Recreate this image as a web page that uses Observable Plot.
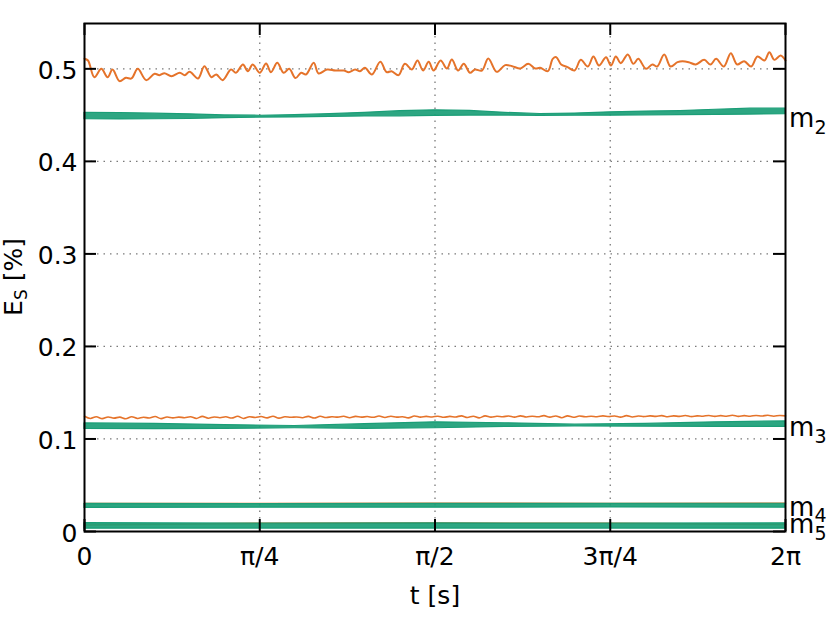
<!DOCTYPE html>
<html>
<head>
<meta charset="utf-8">
<script src="https://cdn.jsdelivr.net/npm/d3@7"></script>
<script src="https://cdn.jsdelivr.net/npm/@observablehq/plot@0.6"></script>
<style>
  html, body { margin: 0; padding: 0; background: #fff; }
</style>
</head>
<body>
<div id="chart"></div>
<script>
// ---- axis ticks ----
const xTicks = [0, 0.25, 0.5, 0.75, 1];
const xTickLabels = ["0", "π/4", "π/2", "3π/4", "2π"];
const yTicks = [0, 0.1, 0.2, 0.3, 0.4, 0.5];

// ---- mode m2, orange series (t as fraction of the 2π period) ----
const tM2o = [0,0.005,0.014,0.024,0.033,0.040,0.050,0.059,0.067,0.076,0.088,0.100,0.107,0.114,0.124,0.136,0.143,0.150,0.162,0.171,0.181,0.188,0.197,0.209,0.216,0.226,0.233,0.240,0.250,0.259,0.266,0.275,0.284,0.292,0.301,0.309,0.316,0.327,0.334,0.346,0.358,0.370,0.377,0.386,0.393,0.400,0.410,0.422,0.431,0.438,0.448,0.457,0.467,0.475,0.483,0.491,0.498,0.508,0.517,0.524,0.533,0.541,0.550,0.557,0.567,0.576,0.588,0.600,0.610,0.622,0.633,0.643,0.650,0.661,0.668,0.673,0.680,0.689,0.699,0.708,0.718,0.726,0.734,0.744,0.751,0.758,0.765,0.775,0.783,0.790,0.801,0.810,0.817,0.827,0.836,0.846,0.853,0.862,0.872,0.884,0.893,0.901,0.912,0.922,0.931,0.941,0.951,0.960,0.970,0.977,0.984,0.993,1.000];
const vM2o = [0.511,0.509,0.491,0.500,0.491,0.4993,0.4867,0.4903,0.4896,0.500,0.4878,0.4946,0.4932,0.4953,0.4921,0.4957,0.4932,0.4968,0.4896,0.5029,0.491,0.4939,0.4878,0.4993,0.4957,0.5047,0.4975,0.5047,0.4957,0.5058,0.4964,0.5065,0.4957,0.500,0.490,0.4957,0.4939,0.5065,0.4950,0.4993,0.4982,0.4982,0.4964,0.4993,0.4975,0.5011,0.4939,0.5076,0.4964,0.4975,0.4932,0.5054,0.4993,0.5090,0.4982,0.5076,0.4982,0.5090,0.5004,0.5101,0.4982,0.5054,0.4957,0.4993,0.4982,0.5112,0.4968,0.5040,0.5029,0.5004,0.5054,0.5004,0.5011,0.4975,0.5108,0.5126,0.5047,0.5018,0.4982,0.5097,0.5025,0.5133,0.5036,0.5126,0.5036,0.5133,0.5061,0.5155,0.5054,0.5108,0.500,0.5047,0.5025,0.5155,0.5025,0.5072,0.5083,0.5072,0.5047,0.5097,0.5047,0.5108,0.5025,0.5169,0.5047,0.5083,0.5025,0.5133,0.5090,0.5180,0.5097,0.5144,0.5090];

// ---- mode m2, green band (lower / upper envelope) ----
const tM2g = [0,0.05,0.1,0.15,0.2,0.25,0.3,0.35,0.4,0.45,0.5,0.55,0.6,0.65,0.7,0.75,0.8,0.85,0.9,0.95,1];
const loM2g = [0.4455,0.4453,0.4455,0.4458,0.4467,0.4473,0.4475,0.4480,0.4485,0.4487,0.4492,0.4495,0.4495,0.4492,0.4493,0.4494,0.4498,0.4500,0.4502,0.4506,0.4510];
const hiM2g = [0.4525,0.4523,0.4515,0.4508,0.4497,0.4493,0.4499,0.4510,0.4525,0.4543,0.4552,0.4545,0.4525,0.4512,0.4517,0.4530,0.4538,0.4544,0.4558,0.4570,0.4570];

// ---- mode m3, orange series (evenly sampled) ----
const vM3o = [
0.1245,0.1222,0.1240,0.1220,0.1238,0.1225,0.1236,0.1218,0.1240,0.1222,
0.1235,0.1226,0.1242,0.1220,0.1238,0.1228,0.1236,0.1230,0.1240,0.1222,
0.1244,0.1224,0.1238,0.1230,0.1240,0.1226,0.1245,0.1222,0.1240,0.1232,
0.1242,0.1228,0.1246,0.1225,0.1240,0.1234,0.1238,0.1230,0.1244,0.1226,
0.1245,0.1232,0.1240,0.1236,0.1246,0.1230,0.1244,0.1236,0.1242,0.1234,
0.1248,0.1232,0.1246,0.1236,0.1240,0.1228,0.1248,0.1236,0.1244,0.1238,
0.1246,0.1234,0.1244,0.1238,0.1250,0.1232,0.1246,0.1228,0.1250,0.1236,
0.1246,0.1240,0.1248,0.1236,0.1250,0.1238,0.1246,0.1240,0.1252,0.1236,
0.1248,0.1230,0.1250,0.1234,0.1248,0.1240,0.1246,0.1240,0.1250,0.1242,
0.1248,0.1236,0.1252,0.1238,0.1248,0.1242,0.1250,0.1244,0.1252,0.1240,
0.1250,0.1244,0.1254,0.1242,0.1250,0.1246,0.1254,0.1244,0.1252,0.1246,
0.1256,0.1244,0.1252,0.1246,0.1254,0.1248,0.1256,0.1246,0.1254,0.1250];

// ---- mode m3, green band ----
const tM3g = [0,0.1,0.2,0.3,0.4,0.5,0.6,0.7,0.8,0.9,1];
const loM3g = [0.1108,0.1107,0.1110,0.1116,0.1110,0.1116,0.1130,0.1135,0.1133,0.1130,0.1130];
const hiM3g = [0.1168,0.1163,0.1150,0.1140,0.1160,0.1180,0.1170,0.1155,0.1163,0.1180,0.1190];

// ---- modes m4, m5 ----
const tLow = [0,0.25,0.5,0.75,1];
const vM4o = [0.0302,0.0302,0.0304,0.0303,0.0305];
const loM4g = [0.0255,0.0258,0.0258,0.0260,0.0258];
const hiM4g = [0.0298,0.0296,0.0298,0.0298,0.0300];
const vM5o = [0.0070,0.0088,0.0090,0.0089,0.0075];
const loM5g = [0.0030,0.0032,0.0032,0.0032,0.0030];
const hiM5g = [0.0090,0.0085,0.0087,0.0085,0.0088];

// ---- mode labels ----
const modeIdx = ["2", "3", "4", "5"];
const modeLabelY = [0.446, 0.1123, 0.0262, 0.0072];

const ORANGE = "#e5732a";
const GREEN = "#1b9e77";
const YMAX = 0.549;

const line = (ts, vs) => ts.map((t, i) => ({t, v: vs[i]}));
const band = (ts, lo, hi) => ts.map((t, i) => ({t, lo: lo[i], hi: hi[i]}));

const m2o = line(tM2o, vM2o);
const m3o = vM3o.map((v, i) => ({t: i / (vM3o.length - 1), v}));
const m4o = line(tLow, vM4o);
const m5o = line(tLow, vM5o);
const m2g = band(tM2g, loM2g, hiM2g);
const m3g = band(tM3g, loM3g, hiM3g);
const m4g = band(tLow, loM4g, hiM4g);
const m5g = band(tLow, loM5g, hiM5g);
const labels = modeIdx.map((n, i) => ({n, y: modeLabelY[i]}));

const gridStyle = {stroke: "#7a7a7a", strokeWidth: 1.3, strokeDasharray: "1.5,5"};
const tickStyle = {stroke: "black", strokeWidth: 2};
const areaOpts = {x: "t", y1: "lo", y2: "hi", fill: GREEN, fillOpacity: 0.92, stroke: GREEN, strokeWidth: 1.2};

const chart = Plot.plot({
  width: 830,
  height: 623,
  marginLeft: 84,
  marginRight: 45,
  marginTop: 23,
  marginBottom: 92,
  style: {fontFamily: "DejaVu Sans", fontSize: "25px", background: "white", color: "black"},
  x: {domain: [0, 1]},
  y: {domain: [0, YMAX]},
  marks: [
    Plot.ruleY(yTicks.slice(1), gridStyle),
    Plot.ruleX(xTicks.slice(1, -1), gridStyle),
    Plot.line(m2o, {x: "t", y: "v", stroke: ORANGE, strokeWidth: 2, curve: "catmull-rom"}),
    Plot.line(m3o, {x: "t", y: "v", stroke: ORANGE, strokeWidth: 1.6, curve: "catmull-rom"}),
    Plot.line(m4o, {x: "t", y: "v", stroke: ORANGE, strokeWidth: 1.6}),
    Plot.line(m5o, {x: "t", y: "v", stroke: ORANGE, strokeWidth: 1.6}),
    Plot.areaY(m2g, areaOpts),
    Plot.areaY(m3g, areaOpts),
    Plot.areaY(m4g, areaOpts),
    Plot.areaY(m5g, areaOpts),
    Plot.ruleY(yTicks, {x1: 0, x2: 0.0171, ...tickStyle}),
    Plot.ruleY(yTicks, {x1: 1 - 0.0171, x2: 1, ...tickStyle}),
    Plot.ruleX(xTicks, {y1: 0, y2: 0.013, ...tickStyle}),
    Plot.ruleX(xTicks, {y1: YMAX - 0.013, y2: YMAX, ...tickStyle}),
    Plot.frame({stroke: "black", strokeWidth: 2}),
    Plot.axisY(yTicks, {tickSize: 0, tickPadding: 7, dy: 2, fontSize: 25, label: null,
      tickFormat: d => d === 0 ? "0" : d.toFixed(1)}),
    Plot.axisX(xTicks, {tickSize: 0, tickPadding: 16, fontSize: 25, label: null,
      tickFormat: d => xTickLabels[xTicks.indexOf(d)]}),
    Plot.text(["t [s]"], {text: d => d, frameAnchor: "bottom", dy: 72, fontSize: 25}),
    Plot.text(labels, {x: () => 1, y: "y", text: () => "m", textAnchor: "start", dx: 3.5, fontSize: 26}),
    Plot.text(labels, {x: () => 1, y: "y", text: "n", textAnchor: "start", dx: 29, dy: 9, fontSize: 19})
  ]
});

// y-axis title with subscript
const yl = d3.select(chart).append("text")
  .attr("transform", "translate(22,277) rotate(-90)")
  .attr("text-anchor", "middle")
  .attr("font-family", "DejaVu Sans")
  .attr("font-size", 25)
  .attr("fill", "black");
yl.append("tspan").text("E");
yl.append("tspan").attr("font-size", 17).attr("dy", 5).text("S");
yl.append("tspan").attr("dy", -5).text(" [%]");

document.getElementById("chart").appendChild(chart);
</script>
</body>
</html>
